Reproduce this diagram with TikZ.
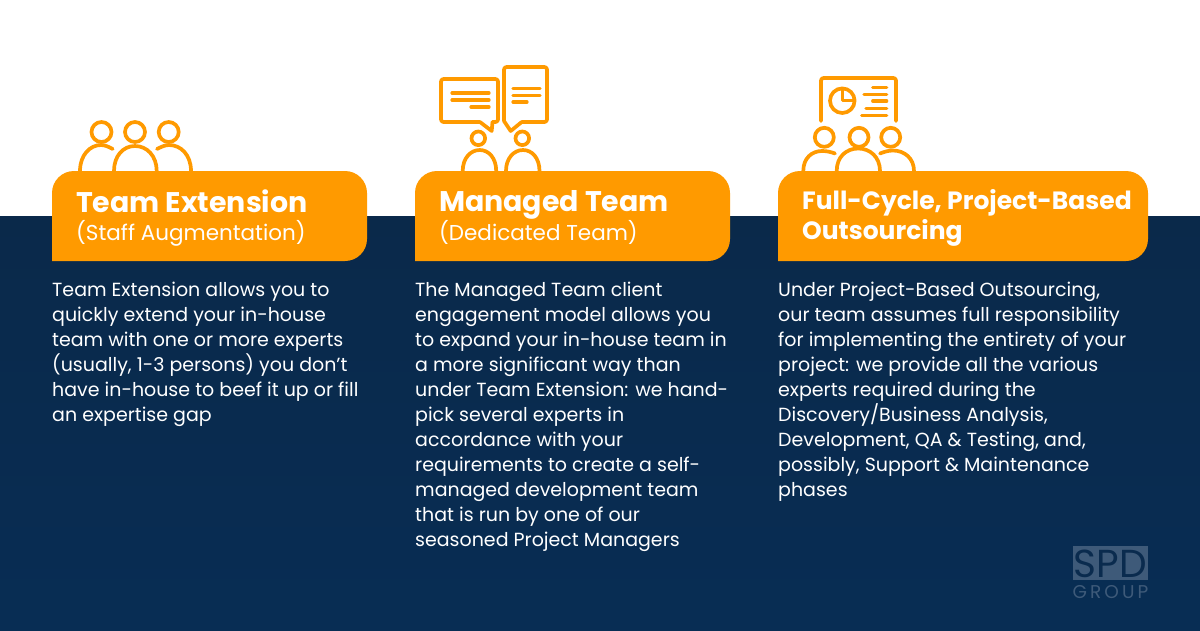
\documentclass[tikz,border=0pt]{standalone}
\usepackage{fontspec}
\setmainfont{Poppins}
\usepackage{tikz}
\usetikzlibrary{calc}
\definecolor{navytop}{HTML}{0A294A}
\definecolor{navybot}{HTML}{082D54}
\definecolor{navy}{HTML}{0A2B4E}
\definecolor{tabfill}{HTML}{FF9A00}
\definecolor{logofill}{HTML}{3E5A79}
% head and shoulders, x y r for the head
\newcommand{\headat}[3]{\draw[icon] (#1,#2) circle (#3);}
\tikzset{
  icon/.style={draw=tabfill,line width=3.7pt,line cap=round,line join=round},
  title/.style={anchor=north west,inner sep=0pt,text=white,align=left,font=\fontsize{28.4}{31}\selectfont\bfseries},
  subtitle/.style={anchor=north west,inner sep=0pt,text=white,font=\fontsize{21.5}{25}\selectfont},
  body/.style={anchor=north west,inner sep=0pt,text=white,align=left,font=\fontsize{19}{25}\selectfont},
}
\begin{document}
\begin{tikzpicture}[x=1pt,y=-1pt]
\useasboundingbox (0,0) rectangle (1200,630);
\fill[white] (0,0) rectangle (1200,630);
\shade[top color=navytop,bottom color=navybot] (0,216) rectangle (1200,630);
% team icon
\foreach \h in {101.5,135,168.7}{\headat{\h}{132}{10}}
\draw[icon] (80,171) .. controls (80,155) and (90,145) .. (101,145) .. controls (105,145) and (109,147) .. (112.7,149);
\draw[icon] (114,171) .. controls (114,156) and (123,146) .. (135,146) .. controls (147,146) and (156.7,156) .. (156.7,171);
\draw[icon] (157,149) .. controls (161,147) and (165,145) .. (169,145) .. controls (181,145) and (191,155) .. (191,171);
% managed icon
\draw[icon,rounded corners=2.5pt] (480,122) -- (441,122) -- (441,79) -- (498,79) -- (498,122) -- (492.5,122);
\draw[icon,line join=round] (480,122) -- (491.7,131) -- (492.5,122);
\draw[icon,rounded corners=2.5pt] (521.7,122) -- (547,122) -- (547,67) -- (504,67) -- (504,121);
\draw[icon] (504,121) -- (510.7,131) -- (521.7,122);
\foreach \a/\b/\c in {452/489/93,452/489/100,471/489/107,513/540/88.7,513/540/95.3,513/527/102}{
  \draw[icon,line width=3.2pt] (\a,\c) -- (\b,\c);
}
\foreach \h in {478.3,522.3}{\headat{\h}{138.3}{6.8}}
\foreach \h in {462.7,506}{
  \draw[icon] (\h,171) .. controls (\h,158) and ($(\h,150)+(8,0)$) .. ($(\h,150)+(17,0)$) .. controls ($(\h,150)+(26,0)$) and ($(\h,158)+(33.5,0)$) .. ($(\h,171)+(33.5,0)$);
}
% full-cycle icon
\draw[icon,rounded corners=2.5pt] (821,121) -- (821,78) -- (896,78) -- (896,121);
\draw[icon] (842.3,100.7) circle (12.3);
\draw[icon,line width=2.8pt] (842.3,90) -- (842.3,100.7) -- (853,100.7);
\foreach \a/\c in {872.7/87.7,864/94.3,872.7/101,866/108.3,861.7/115.7}{
  \draw[icon,line width=3.2pt] (\a,\c) -- (886.7,\c);
}
\foreach \h in {824.3,859,890.7}{\headat{\h}{137.3}{9.5}}
\draw[icon] (803.3,171) .. controls (803.3,158) and (812,151) .. (822,151) .. controls (827,151) and (831,152) .. (835,153.5);
\draw[icon] (836.7,171) .. controls (836.7,157) and (846,148.5) .. (858.3,148.5) .. controls (870,148.5) and (880,157) .. (880,171);
\draw[icon] (880,153.5) .. controls (884,152) and (888,150.5) .. (893,150.5) .. controls (904,150.5) and (914,158) .. (914,171);
% tabs
\foreach \x/\w in {52/315,415/315,778/370}{
  \fill[tabfill] (\x,261) -- (\x,193) arc[start angle=180,end angle=90,x radius=22,y radius=-22]
    -- ($(\x,171)+(\w-22,0)$) arc[start angle=90,end angle=0,x radius=22,y radius=-22]
    -- ($(\x,239)+(\w,0)$) arc[start angle=0,end angle=-90,x radius=22,y radius=-22] -- cycle;
}
\node[title] (t1) at (76,190) {Team Extension};
\node[subtitle] (s1) at (76,220) {(Staff Augmentation)};
\node[title] (t2) at (439,190) {Managed Team};
\node[subtitle] (s2) at (439,220) {(Dedicated Team)};
\node[title,font=\fontsize{25}{30}\selectfont\bfseries] (t3) at (802,189) {Full-Cycle, Project-Based\\Outsourcing};
\node[body] (b1) at (52,282) {Team Extension allows you to\\quickly extend your in-house\\team with one or more experts\\(usually, 1-3 persons) you don’t\\have in-house to beef it up or fill\\an expertise gap};
\node[body] (b2) at (415,282) {The Managed Team client\\engagement model allows you\\to expand your in-house team in\\a more significant way than\\under Team Extension: we hand-\\pick several experts in\\accordance with your\\requirements to create a self-\\managed development team\\that is run by one of our\\seasoned Project Managers};
\node[body] (b3) at (778,282) {Under Project-Based Outsourcing,\\our team assumes full responsibility\\for implementing the entirety of your\\project: we provide all the various\\experts required during the\\Discovery/Business Analysis,\\Development, QA \& Testing, and,\\possibly, Support \& Maintenance\\phases};
% logo
\fill[logofill] (1073,546) rectangle (1148,580);
\node[inner sep=0pt,text=navy,text height=27pt,text depth=0pt,font=\fontsize{39}{39}\selectfont] (spd) at (1110.5,563.5) {SPD};
\node[inner sep=0pt,text=logofill,text height=13pt,text depth=0pt,font=\fontsize{18.5}{18.5}\selectfont] (group) at (1110.5,591.5) {G\,R\,O\,U\,P};
\end{tikzpicture}
\end{document}
